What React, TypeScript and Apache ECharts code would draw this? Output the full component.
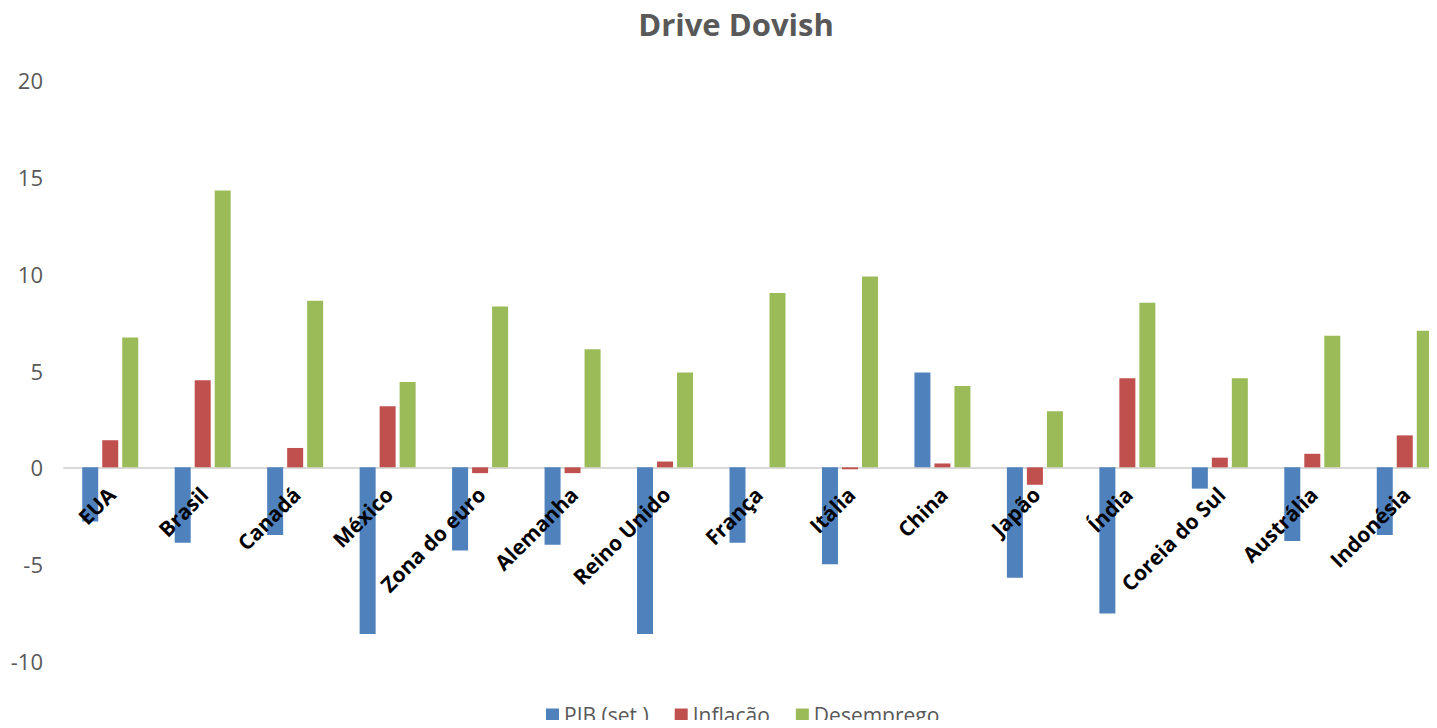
import React, { useEffect, useRef } from "react";
import * as echarts from "echarts";

const categories = [
  "EUA", "Brasil", "Canadá", "México", "Zona do euro", "Alemanha", "Reino Unido",
  "França", "Itália", "China", "Japão", "Índia", "Coreia do Sul", "Austrália", "Indonésia",
];
const pib = [-2.8, -3.9, -3.5, -8.6, -4.3, -4.0, -8.6, -3.9, -5.0, 4.9, -5.7, -7.55, -1.1, -3.8, -3.5];
const inflacao = [1.4, 4.5, 1.0, 3.15, -0.3, -0.3, 0.3, 0.0, -0.1, 0.2, -0.9, 4.6, 0.5, 0.7, 1.65];
const desemprego = [6.7, 14.3, 8.6, 4.4, 8.3, 6.1, 4.9, 9.0, 9.85, 4.2, 2.9, 8.5, 4.6, 6.8, 7.05];
const seriesNames = ["PIB (set.)", "Inflação", "Desemprego"];
const colors = ["#4f81bd", "#c0504d", "#9bbb59"];

export default function App() {
  const ref = useRef<HTMLDivElement>(null);
  useEffect(() => {
    if (!ref.current) return;
    const chart = echarts.init(ref.current, null, { renderer: "svg" });
    const data = [pib, inflacao, desemprego];
    chart.setOption({
      animation: false,
      backgroundColor: "#ffffff",
      title: {
        text: "Drive Dovish",
        left: 731,
        top: 3,
        textAlign: "center",
        textStyle: { fontFamily: "Open Sans", fontWeight: "bold", fontSize: 31, color: "#595959" },
      },
      legend: {
        data: seriesNames,
        left: 541,
        top: 699,
        itemWidth: 13,
        itemHeight: 13,
        itemGap: 26,
        icon: "rect",
        textStyle: { fontFamily: "Open Sans", fontSize: 21, lineHeight: 22, color: "#595959" },
      },
      grid: { left: 64, right: -14, top: 80, bottom: 67, containLabel: false, outerBoundsMode: "none" },
      xAxis: {
        type: "category",
        data: categories,
        axisLine: { onZero: true, lineStyle: { color: "#d9d9d9", width: 2 } },
        axisTick: { show: false },
        axisLabel: { show: false },
      },
      yAxis: {
        type: "value",
        min: -10,
        max: 20,
        interval: 5,
        axisLine: { show: false },
        axisTick: { show: false },
        splitLine: { show: false },
        axisLabel: { margin: 21, fontFamily: "Open Sans", fontSize: 22, color: "#595959" },
      },
      series: [
        ...seriesNames.map((name, i) => ({
          name,
          type: "bar",
          data: data[i],
          barWidth: 16,
          barGap: "25%",
          itemStyle: { color: colors[i] },
        })),
        {
          name: "labels",
          type: "custom",
          silent: true,
          z: 10,
          data: categories.map((_, i) => [i, 0]),
          renderItem: (params: any, api: any) => {
            const idx = api.value(0);
            const p = api.coord([idx, 0]);
            return {
              type: "text",
              x: p[0] - 6,
              y: p[1] + 16,
              rotation: Math.PI / 4,
              style: {
                text: categories[idx],
                align: "right",
                verticalAlign: "top",
                fontFamily: "Open Sans",
                fontWeight: "bold",
                fontSize: 21,
                fill: "#000000",
              },
            };
          },
        },
      ],
    });
    return () => chart.dispose();
  }, []);
  return <div ref={ref} style={{ width: 1437, height: 728, margin: -8 }} />;
}
